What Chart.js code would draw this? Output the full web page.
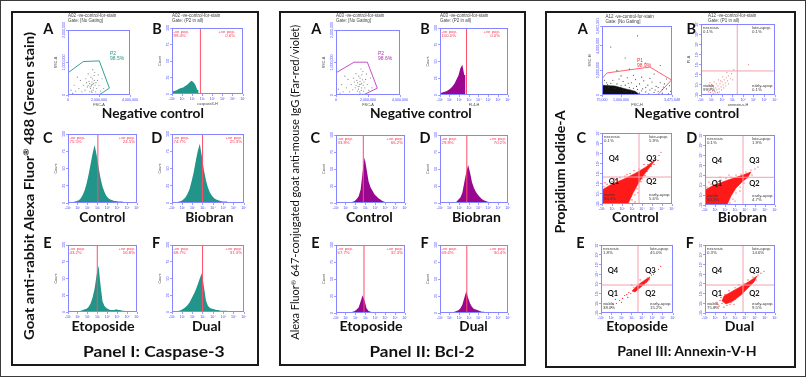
<!DOCTYPE html>
<html><head><meta charset="utf-8">
<script src="https://cdn.jsdelivr.net/npm/chart.js@4.4.1/dist/chart.umd.min.js"></script>
<style>
html,body{margin:0;padding:0;background:#fff;}
#root{position:relative;width:807px;height:378px;overflow:hidden;background:#fff;}
.box{position:absolute;box-sizing:border-box;}
.t{position:absolute;white-space:nowrap;line-height:1;}
.t sup{font-size:60%;line-height:0;vertical-align:0.55em;}
canvas{position:absolute;}
</style></head><body><div id="root"></div>
<script>
// ---------------- DATA ----------------
const HSTEP = 0.2;                       // histogram bin width (log-decade units)
// Panel I: Caspase-3 histograms (B..F), % of y max
const casB_x0 = 0.1, casB = [4,5,6,8,9,10,12,14,17,20,18,14,6];
const casC_x0 = 0.3, casC = [1,1,2,3,4,7,12,19,29,42,57,72,84,70,52,36,24,16,10,7,5,4,3,3,2,2,2,1,1,1];
const casD_x0 = 0.3, casD = [1,1,2,3,5,8,13,20,31,44,60,75,86,68,48,33,22,15,10,7,5,4,3,2,2,2,1,1,1];
const casE_x0 = 0.7, casE = [1,1,1,2,3,4,5,8,13,22,35,55,69,40,16,9,6,4,3,3,3,4,3,3,2,2,1,1];
const casF_x0 = 0.5, casF = [1,2,3,5,7,10,14,20,26,33,41,50,58,38,17,9,6,5,4,3,3,2,2,2,2,1,1,1];
const casGates = [2.8, 3.03, 2.97, 2.97, 2.97];
const casNeg = ["99.4%","75.5%","74.7%","43.2%","68.7%"];
const casPos = ["0.6%","24.5%","25.3%","56.8%","31.3%"];
// Panel II: Bcl-2 histograms
const bclB_x0 = 0.1, bclB = [3,4,5,6,8,10,13,17,23,29,40,45,30];
const bclC_x0 = 1.5, bclC = [1,2,3,6,10,20,45,67,50,32,23,18,13,10,7,5,3,2,1];
const bclD_x0 = 1.5, bclD = [1,2,5,8,15,30,45,56,44,30,22,16,12,9,6,4,3,2,1];
const bclE_x0 = 1.5, bclE = [1,2,3,5,8,17,26,18,7,3,2,1];
const bclF_x0 = 1.3, bclF = [1,2,3,4,7,12,22,32,22,14,9,6,5,4,3,2,2,1];
const bclGates = [2.73, 2.77, 2.76, 2.84, 2.76];
const bclNeg = ["100.0%","33.8%","29.8%","67.7%","69.6%"];
const bclPos = ["0.0%","66.2%","70.2%","32.3%","30.4%"];
// FSC/SSC plots (millions)
const casA_pts = [[1.3,0.3],[1.4,0.35],[1.5,0.28],[1.55,0.4],[1.6,0.33],[1.65,0.22],[1.7,0.45],[1.45,0.2],[1.35,0.42],[1.75,0.3],[1.8,0.38],[1.58,0.5],[1.48,0.55],[1.62,0.15],[1.52,0.12],[1.4,0.1],[1.68,0.6],[1.85,0.2],[1.9,0.45],[1.25,0.25],[1.2,0.38],[1.1,0.15],[1.0,0.3],[0.9,0.1],[0.7,0.2],[0.5,0.12],[0.3,0.05],[0.2,0.15],[0.4,0.3],[0.8,0.45],[2.0,0.3],[2.1,0.12],[2.2,0.5],[1.95,0.62],[1.72,0.7],[1.3,0.65],[1.55,0.08],[1.78,0.1],[2.3,0.2],[0.6,0.55],[1.15,0.5],[1.6,0.78],[1.42,0.25],[1.66,0.36],[1.52,0.31]];
const casA_gate = [[0.02,0.69],[0.99,1.03],[2.02,1.05],[2.67,0.21],[2.06,0.02],[0.02,0.0],[0.02,0.69]];
const bclA_pts = [[1.25,0.3],[1.35,0.38],[1.45,0.27],[1.5,0.42],[1.55,0.33],[1.6,0.22],[1.65,0.47],[1.4,0.18],[1.3,0.45],[1.7,0.3],[1.75,0.4],[1.5,0.52],[1.42,0.58],[1.58,0.14],[1.48,0.1],[1.33,0.12],[1.62,0.62],[1.8,0.22],[1.85,0.48],[1.2,0.22],[1.15,0.4],[1.05,0.16],[0.95,0.32],[0.85,0.1],[0.65,0.22],[0.45,0.1],[0.25,0.06],[0.15,0.18],[0.35,0.32],[0.75,0.48],[1.95,0.32],[2.05,0.14],[2.15,0.52],[1.9,0.65],[1.68,0.72],[1.25,0.66],[1.5,0.06],[1.72,0.12],[2.25,0.22],[0.55,0.58],[1.1,0.52],[1.56,0.8],[1.38,0.26],[1.6,0.36],[1.46,0.33]];
const bclA_gate = [[0.02,0.69],[1.13,1.01],[1.96,1.01],[2.58,0.21],[1.79,0.02],[0.02,0.0],[0.02,0.69]];
const annA_pts = [[0.3,1.0],[0.5,0.95],[0.8,0.9],[1.0,0.75],[1.2,0.8],[1.4,0.6],[1.6,0.55],[1.8,0.45],[2.0,0.35],[2.2,0.25],[2.4,0.4],[2.6,0.2],[2.8,0.3],[3.0,0.15],[3.2,0.5],[3.3,0.1],[1.1,1.1],[1.5,1.0],[1.9,0.9],[2.3,0.8],[2.7,0.7],[3.1,0.9],[0.6,1.2],[0.9,1.3],[1.3,1.4],[1.7,1.25],[2.1,1.15],[2.5,1.05],[2.9,1.0],[3.35,0.75],[0.4,0.6],[0.7,0.55],[1.5,0.2],[1.9,0.15],[2.2,0.6],[2.5,0.55],[2.8,0.6],[3.0,0.45],[1.0,1.55],[1.6,1.6],[2.0,1.45],[2.4,1.35],[0.8,2.0],[1.4,2.1],[2.6,1.7],[3.2,1.3],[1.2,3.0],[2.9,2.4],[0.5,3.9],[1.8,4.8],[2.2,2.6],[3.4,0.3],[1.75,0.7],[2.05,0.5],[1.35,0.95],[0.95,0.6],[2.65,0.4],[3.05,0.65],[1.25,0.3],[1.45,0.4],[1.65,0.15],[1.1,0.35],[2.35,0.1],[2.75,0.05],[0.35,0.85],[0.2,1.2]];
const annA_band = [[0.09,0.02],[0.09,0.79],[0.7,0.73],[1.19,0.51],[1.68,0.3],[1.84,0.11],[1.84,0.02],[0.09,0.02]];
const annA_gate = [[0.1,1.38],[0.32,1.79],[2.4,2.27],[3.45,1.22],[2.79,0.04],[0.1,0.04],[0.1,1.38]];
// Panel III: Annexin-V / PI quadrant plots (log-decade units)
const annB_pts = [[0.7,0.3],[0.8,0.5],[0.9,0.25],[1.0,0.6],[1.1,0.4],[1.2,0.8],[1.3,0.35],[1.4,0.7],[1.5,0.5],[1.6,0.9],[1.7,0.6],[1.8,1.1],[1.9,0.8],[2.0,1.3],[2.1,1.0],[2.2,1.5],[2.3,1.2],[2.4,1.7],[2.5,1.4],[2.6,1.9],[2.8,1.6],[2.9,2.1],[0.75,0.9],[0.85,1.2],[1.05,1.0],[1.25,1.3],[1.45,1.1],[1.65,1.5],[1.35,0.2],[1.55,0.25],[1.75,0.3],[1.95,0.5],[2.15,0.7],[2.35,0.9],[1.15,0.15],[0.95,0.8],[1.85,1.4],[2.05,1.8],[2.45,2.2],[0.7,0.6],[1.6,0.2],[2.6,1.1],[3.0,1.5],[3.1,2.5],[4.5,3.0],[5.2,1.0]];
const annC_poly = [[0,0],[0,1.38],[1.0,1.97],[2.2,2.47],[3.4,3.06],[4.4,3.65],[5.4,4.44],[4.8,3.65],[4.1,2.76],[3.6,1.97],[3.1,1.08],[2.6,0],[0,0]];
const annC_pts = [[0.2,1.7],[0.5,1.95],[1.0,2.2],[1.4,2.35],[1.8,2.6],[2.3,2.75],[2.8,3.0],[3.2,3.3],[3.7,3.45],[4.2,3.9],[4.8,4.2],[5.3,4.6],[5.7,4.8],[5.9,5.1],[5.2,3.9],[4.5,3.2],[4.3,2.8],[3.9,2.2],[3.5,1.5],[3.3,0.9],[3.0,0.4],[3.3,0.2],[2.5,2.9],[1.2,2.5],[0.3,2.1],[3.9,3.1],[4.9,3.7],[3.6,1.1],[4.0,2.5],[5.6,4.3],[2.9,0.8],[4.6,3.9]];
const annD_poly = [[0,0],[0,1.5],[0.9,2.0],[2.3,2.5],[3.5,2.9],[4.6,3.3],[4.3,2.8],[3.7,2.3],[3.1,1.7],[2.6,0.9],[2.2,0],[0,0]];
const annD_pts = [[0.2,1.8],[0.6,2.1],[1.1,2.3],[1.6,2.5],[2.1,2.7],[2.6,2.8],[3.1,3.0],[3.6,3.1],[4.1,3.3],[4.6,3.5],[5.0,3.6],[5.3,3.8],[4.7,3.0],[4.2,2.7],[3.9,2.2],[3.5,1.8],[3.1,1.2],[2.8,0.6],[2.5,0.2],[3.0,0.4],[1.5,2.8],[2.4,3.0],[0.4,2.3],[4.3,3.0],[3.5,1.4]];
const annE_poly = [[3.01,2.27],[3.59,2.89],[4.27,3.4],[4.76,3.71],[4.56,3.3],[3.88,2.68],[3.3,2.16],[3.01,2.27]];
const annE_pts = [[1.2,0.9],[1.5,1.0],[1.8,1.3],[2.1,1.5],[2.3,1.8],[2.5,1.9],[2.7,2.1],[2.9,2.0],[3.2,2.6],[3.4,2.4],[3.7,2.7],[4.0,3.1],[4.4,3.2],[4.5,3.6],[4.9,3.9],[5.1,4.0],[5.3,4.3],[5.6,4.5],[2.0,1.1],[2.6,1.6],[3.0,2.9],[4.2,2.9],[3.8,3.4],[1.0,0.6],[5.8,4.8],[1.4,1.4],[4.7,3.5]];
const annF_poly = [[1.7,1.24],[1.9,1.75],[2.6,2.16],[3.5,2.68],[4.5,3.3],[5.2,3.81],[4.9,3.2],[4.3,2.58],[3.6,1.86],[2.8,1.24],[2.1,0.93],[1.7,1.24]];
const annF_pts = [[1.0,0.6],[1.3,0.9],[1.5,1.3],[1.4,0.7],[1.7,1.0],[1.9,0.6],[2.2,0.8],[2.5,0.9],[1.6,1.6],[2.0,1.9],[2.4,2.3],[3.0,2.6],[3.4,2.9],[3.9,3.0],[4.3,3.4],[4.8,3.7],[5.3,3.9],[5.6,4.1],[5.9,4.3],[4.6,3.0],[4.0,2.4],[3.4,1.9],[3.0,1.4],[2.6,1.1],[2.9,0.9],[1.2,1.1],[5.1,3.4],[3.7,2.2],[2.2,1.4],[3.2,2.2]];
const annQuad = [[3.43,2.37],[3.7,2.66],[3.8,2.77],[3.6,2.88],[3.8,2.88]];   // B..F
// [necrosis, late-apop., viable, early-apop.]
const annStats = [["0.1%","0.1%","99.7%","0.1%"],["0.1%","5.9%","88.4%","5.6%"],["0.1%","1.9%","93.3%","4.7%"],["1.8%","45.0%","38.0%","15.2%"],["0.3%","14.6%","75.6%","9.5%"]];
// tick labels
const HX_TICKS = [0,1,2,3,4,5,6,7], HX_LABELS = ["-10¹","10¹","10²","10³","10⁴","10⁵","10⁶","10⁷"];
const HY_TICKS = [0,25,50,75,100], HY_LABELS = ["0","25","50","75","100"];
const FX_TICKS = [0,2,4], FX_LABELS = ["0","2,000,000","4,000,000"];
const FY_TICKS = [0,1,2], FY_LABELS = ["0","1,000,000","2,000,000"];
const HX3_TICKS = [0.075,1,3.471648], HX3_LABELS = ["75,000","1,000,000","3,471,648"];
const HY3_TICKS = [0,2,4,5.601391], HY3_LABELS = ["0","2,000,000","4,000,000","5,601,391"];
const AX_TICKS = [0,1,2,3,4,5,6,7], AX_LABELS = ["-10¹","10¹","10²","10³","10⁴","10⁵","10⁶","10⁷"];

// ---------------- DRAWING ----------------
const root = document.getElementById('root');
const PADL=14, PADT=10, PADR=9, PADB=12;
const AXC='#8585ff', TKC='#4747ff', GATE='#ff4d6a', QUAD='#f3a0ae';
const TEAL='#21958a', PURP='#99068f', RED='#ff1a1a';
const SMALL='"Liberation Sans", Arial, sans-serif', BIG='Lato, "Open Sans", sans-serif';

const frame = {id:'frame', afterDraw(chart){
  const a=chart.chartArea, ctx=chart.ctx; ctx.save(); ctx.strokeStyle=AXC; ctx.lineWidth=1;
  ctx.strokeRect(Math.round(a.left)+0.5, Math.round(a.top)+0.5, Math.round(a.right-a.left)-1, Math.round(a.bottom-a.top)-1);
  ctx.restore(); }};
const rotY = {id:'rotY', afterDraw(chart, args, o){
  if(!o || !o.labels) return; const ctx=chart.ctx, s=chart.scales.y;
  ctx.save(); ctx.fillStyle=TKC; ctx.font='3.6px "Liberation Sans"'; ctx.textAlign='center'; ctx.textBaseline='middle';
  o.values.forEach((v,i)=>{ const y=s.getPixelForValue(v); ctx.save(); ctx.translate(chart.chartArea.left-4.5, y); ctx.rotate(-Math.PI/2); ctx.fillText(o.labels[i],0,0); ctx.restore(); });
  ctx.restore(); }};
// fills closed polygons using the point positions Chart.js computed for the dataset
const polyFill = {id:'polyFill', beforeDatasetsDraw(chart){
  const ctx=chart.ctx, a=chart.chartArea;
  chart.data.datasets.forEach((ds,i)=>{
    if(!ds.polyColor) return; const els=chart.getDatasetMeta(i).data; if(!els.length) return;
    ctx.save(); ctx.beginPath(); ctx.rect(a.left,a.top,a.right-a.left,a.bottom-a.top); ctx.clip();
    ctx.beginPath();
    if(ds.polyHist){ // histogram silhouette through bin centres, closed to the baseline
      const base=chart.scales.y.getPixelForValue(0), hw=ds.polyHist/2, n=els.length;
      ctx.moveTo(els[0].x-hw, base); ctx.lineTo(els[0].x-hw, els[0].y);
      els.forEach(p=>ctx.lineTo(p.x, p.y));
      ctx.lineTo(els[n-1].x+hw, els[n-1].y); ctx.lineTo(els[n-1].x+hw, base);
    } else els.forEach((p,j)=> j ? ctx.lineTo(p.x,p.y) : ctx.moveTo(p.x,p.y));
    ctx.closePath(); ctx.fillStyle=ds.polyColor; ctx.fill(); ctx.restore();
  }); }};

function axisCfg(kind, a){
  return { type:'linear', min:a.min, max:a.max, offset:false,
    afterFit(s){ if(kind==='x') s.height=PADB; else s.width=PADL; },
    afterBuildTicks(s){ s.ticks=a.ticks.map(v=>({value:v})); },
    grid:{drawOnChartArea:false, drawTicks:true, tickLength:2, color:AXC, lineWidth:0.8},
    border:{display:false},
    ticks:{display:kind==='x', autoSkip:false, maxRotation:0, minRotation:0, padding:0.5, color:TKC,
      font:{size:3.6, family:'Liberation Sans'}, callback:(v,i)=>a.labels[i]},
    title:{display:!!a.title, text:a.title||'', color:'#444', font:{size:3.8, family:'Liberation Sans'}, padding:{top:0,bottom:0}} };
}
function mkChart(rect, type, datasets, xa, ya){
  const [L,T,R,B]=rect; const c=document.createElement('canvas');
  c.width=(R-L)+PADL+PADR; c.height=(B-T)+PADT+PADB;
  c.style.left=(L-PADL)+'px'; c.style.top=(T-PADT)+'px'; c.style.width=c.width+'px'; c.style.height=c.height+'px';
  root.appendChild(c);
  return new Chart(c, {type, data:{datasets}, options:{
    responsive:false, maintainAspectRatio:false, animation:false, events:[], devicePixelRatio:1,
    layout:{padding:{left:0, top:PADT, right:PADR, bottom:0}},
    plugins:{legend:{display:false}, tooltip:{enabled:false}, rotY:{values:ya.ticks, labels:ya.labels}},
    scales:{x:axisCfg('x',xa), y:axisCfg('y',ya)} }, plugins:[polyFill, frame, rotY]});
}
const XY = a => a.map(([x,y])=>({x,y}));
// histogram: one point per bin (bin centre, count)
function histSets(chartRect, x0, vals, gate, color){
  const pxPerUnit = (chartRect[2]-chartRect[0])/7;
  return [
    {type:'line', data:vals.map((v,i)=>({x:Math.round((x0+i*HSTEP)*100)/100, y:v})), showLine:false, pointRadius:0,
     polyColor:color, polyHist:HSTEP*pxPerUnit, order:2},
    {type:'line', data:[{x:gate,y:0},{x:gate,y:100}], borderColor:GATE, borderWidth:1, pointRadius:0, order:1} ];
}
const pts = (a, col, r) => ({type:'scatter', data:XY(a), backgroundColor:col, borderWidth:0, pointRadius:r});
const poly = (a, col, fillCol, w) => ({type:'line', data:XY(a), borderColor:col, borderWidth:w, pointRadius:0, tension:0, fill:false, polyColor:fillCol||null});
function quadSets(q){ return [
  {type:'line', data:[{x:q[0],y:0},{x:q[0],y:7}], borderColor:QUAD, borderWidth:1, pointRadius:0, fill:false},
  {type:'line', data:[{x:0,y:q[1]},{x:7,y:q[1]}], borderColor:QUAD, borderWidth:1, pointRadius:0, fill:false} ]; }

const hx = t => ({min:0, max:7, ticks:HX_TICKS, labels:HX_LABELS, title:t});
const hy = {min:0, max:100, ticks:HY_TICKS, labels:HY_LABELS, title:'Count'};
const ax = t => ({min:0, max:7, ticks:AX_TICKS, labels:AX_LABELS, title:t});

// rectangles [L,T,R,B]
const R1 = {A:[68,30,130,95], B:[172,28,243,94], C:[68,134,137,203], D:[172,134,244,203], E:[68,245,137,312], F:[172,245,244,312]};
const R2 = {A:[336,30,400,95], B:[440,28,508,95], C:[336,135,405,203], D:[440,135,508,203], E:[336,245,405,313], F:[440,245,508,313]};
const R3 = {A:[602,26,672,95], B:[701,24,775,95], C:[602,133,672,204], D:[705,135,775,205], E:[601,245,673,313], F:[705,245,775,313]};

// Panel I
mkChart(R1.A,'scatter',[pts(casA_pts,'#8a8a8a',0.6), poly(casA_gate,TEAL,null,0.9)], {min:0,max:4,ticks:FX_TICKS,labels:FX_LABELS,title:'FSC-A'}, {min:0,max:2,ticks:FY_TICKS,labels:FY_LABELS,title:'SSC-A'});
mkChart(R1.B,'scatter',histSets(R1.B,casB_x0,casB,casGates[0],TEAL), hx('caspase3-H'), hy);
mkChart(R1.C,'scatter',histSets(R1.C,casC_x0,casC,casGates[1],TEAL), hx(''), hy);
mkChart(R1.D,'scatter',histSets(R1.D,casD_x0,casD,casGates[2],TEAL), hx(''), hy);
mkChart(R1.E,'scatter',histSets(R1.E,casE_x0,casE,casGates[3],TEAL), hx(''), hy);
mkChart(R1.F,'scatter',histSets(R1.F,casF_x0,casF,casGates[4],TEAL), hx(''), hy);
// Panel II
mkChart(R2.A,'scatter',[pts(bclA_pts,'#8a8a8a',0.6), poly(bclA_gate,'#c03cc0',null,0.9)], {min:0,max:4,ticks:FX_TICKS,labels:FX_LABELS,title:'FSC-A'}, {min:0,max:2,ticks:FY_TICKS,labels:FY_LABELS,title:'SSC-A'});
mkChart(R2.B,'scatter',histSets(R2.B,bclB_x0,bclB,bclGates[0],PURP), hx('FL4-H'), hy);
mkChart(R2.C,'scatter',histSets(R2.C,bclC_x0,bclC,bclGates[1],PURP), hx(''), hy);
mkChart(R2.D,'scatter',histSets(R2.D,bclD_x0,bclD,bclGates[2],PURP), hx(''), hy);
mkChart(R2.E,'scatter',histSets(R2.E,bclE_x0,bclE,bclGates[3],PURP), hx(''), hy);
mkChart(R2.F,'scatter',histSets(R2.F,bclF_x0,bclF,bclGates[4],PURP), hx(''), hy);
// Panel III
mkChart(R3.A,'scatter',[poly(annA_band,'#111','#111',0.5), pts(annA_pts,'#333',0.55), poly(annA_gate,'#ff5060',null,0.9)], {min:0.075,max:3.471648,ticks:HX3_TICKS,labels:HX3_LABELS,title:'FSC-H'}, {min:0,max:5.601391,ticks:HY3_TICKS,labels:HY3_LABELS,title:'SSC-H'});
mkChart(R3.B,'scatter',[...quadSets(annQuad[0]), pts(annB_pts,'#f08080',0.6)], ax('annexin-v-H'), ax('PI-A'));
mkChart(R3.C,'scatter',[...quadSets(annQuad[1]), poly(annC_poly,RED,RED,0.6), pts(annC_pts,RED,0.6)], ax(''), ax(''));
mkChart(R3.D,'scatter',[...quadSets(annQuad[2]), poly(annD_poly,RED,RED,0.6), pts(annD_pts,RED,0.6)], ax(''), ax(''));
mkChart(R3.E,'scatter',[...quadSets(annQuad[3]), poly(annE_poly,RED,RED,0.6), pts(annE_pts,RED,0.6)], ax(''), ax(''));
mkChart(R3.F,'scatter',[...quadSets(annQuad[4]), poly(annF_poly,RED,RED,0.6), pts(annF_pts,RED,0.6)], ax(''), ax(''));

// ---------------- BOXES & TEXT ----------------
function box(l,t,w,h,bw,col){ const d=document.createElement('div'); d.className='box';
  Object.assign(d.style,{left:l+'px',top:t+'px',width:w+'px',height:h+'px',border:bw+'px solid '+col}); root.appendChild(d); }
box(0,0,806,377,1.5,'#3a3a3a');
box(11,11,248,355,2,'#1a1a1a');
box(279,11,247,355,2,'#1a1a1a');
box(544.5,11,251,356.5,2,'#1a1a1a');

function txt(s,x,y,o={}){
  const d=document.createElement('div'); d.className='t';
  if(o.html) d.innerHTML=s; else d.textContent=s;
  const fs=o.fs||4.3;
  d.style.fontSize=fs+'px'; d.style.fontFamily=o.ff||SMALL; d.style.fontWeight=o.fw||'400'; d.style.color=o.c||'#3a3a3a';
  root.appendChild(d);
  const r=d.getBoundingClientRect(), w=r.width, h=fs;
  let left=x; if(o.al==='c') left=x-w/2; else if(o.al==='r') left=x-w;
  d.style.left=left+'px'; d.style.top=(y-h/2)+'px';
  let tf=''; if(o.rot) tf+='rotate(-90deg) '; if(o.w) tf+='scaleX('+(o.w/w)+')';
  if(tf){ d.style.transform=tf; d.style.transformOrigin=(w/2)+'px '+(h/2)+'px'; }
  return d;
}
const big = (s,x,y,fs,w,extra={}) => txt(s,x,y,Object.assign({fs,fw:700,ff:BIG,al:'c',w,c:'#111'},extra));

// panel letters
[[48.3,29.3,'A'],[157,29.3,'B'],[47.8,138.3,'C'],[156.7,138.3,'D'],[47.5,243.5,'E'],[156.2,243.5,'F'],
 [316.3,29.3,'A'],[425,29.3,'B'],[315.2,138.3,'C'],[425,138.3,'D'],[315.3,243.5,'E'],[424.5,243.5,'F'],
 [582.7,29.2,'A'],[691.3,29.2,'B'],[581.3,138.3,'C'],[691.8,138.3,'D'],[580.5,243.3,'E'],[689.8,243.3,'F']
].forEach(([x,y,s])=>big(s,x,y,14.5,null));
// sub titles
[[152.5,'Negative control',102],[420.5,'Negative control',101.7],[687.2,'Negative control',105]].forEach(([x,s,w])=>big(s,x,113.3,14,w));
[[102,'Control',46],[209.2,'Biobran',48.3],[369.7,'Control',46.7],[476.8,'Biobran',49],[635.3,'Control',46.7],[742.7,'Biobran',49.3]].forEach(([x,s,w])=>big(s,x,216.7,14,w));
[[103.3,'Etoposide',63.3],[206.2,'Dual',29],[371.3,'Etoposide',63.3],[473.8,'Dual',28.3],[637.2,'Etoposide',61.7],[740,'Dual',29.3]].forEach(([x,s,w])=>big(s,x,325.5,14,w));
big('Panel I: Caspase-3',154.2,350.8,16,141.7);
big('Panel II: Bcl-2',422.2,351.2,15,105);
big('Panel III: Annexin-V-H',686.7,352.5,12.5,139.3);
// y labels
big('Goat anti-rabbit Alexa Fluor<sup>®</sup> 488 (Green stain)',28.5,186,14,308,{html:true,rot:true});
big('Alexa Fluor<sup>®</sup> 647-conjugated goat anti-mouse IgG (Far-red/violet)',295,182.5,10.5,315,{html:true,rot:true,fw:400});
big('Propidium Iodide-A',559.7,171.5,14,123,{rot:true});

// plot headers
function header(x,l1,l2){ txt(l1,x,15.8,{fs:4.5,c:'#444'}); txt(l2,x,21.3,{fs:4.5,c:'#444'}); }
header(68,'A02 -ve-control-for-stain','Gate: [No Gating]');
header(172,'A02 -ve-control-for-stain','Gate: (P2 in all)');
header(336,'A03 -ve-control-for-stain','Gate: [No Gating]');
header(440,'A03 -ve-control-for-stain','Gate: (P2 in all)');
txt('A12 -ve-control-for-stain',605.5,16.8,{fs:4.5,c:'#444'}); txt('Gate: [No Gating]',605.5,22,{fs:4.5,c:'#444'});
header(708,'A12 -ve-control-for-stain','Gate: (P1 in all)');
// gate labels
txt('P2',110,53.3,{fs:5,c:TEAL}); txt('98.5%',110,58.8,{fs:5,c:TEAL});
txt('P2',378,53.3,{fs:5,c:'#b030b0'}); txt('98.6%',378,58.8,{fs:5,c:'#b030b0'});
txt('P1',637,60.3,{fs:5,c:'#ff3040'}); txt('98.9%',637,65,{fs:5,c:'#ff3040'});
// histogram stats
const HR = (r,i,neg,pos)=>{ const [L,T,R]=r; const rr = i===0 ? R-8 : R-2;
  txt('-ve pop.',L+1.5,T+4,{c:'#ff3355'}); txt(neg,L+1.5,T+8,{c:'#ff3355'});
  txt('+ve pop.',rr,T+4,{c:'#ff3355',al:'r'}); txt(pos,rr,T+8,{c:'#ff3355',al:'r'}); };
['B','C','D','E','F'].forEach((k,i)=>{ HR(R1[k],i,casNeg[i],casPos[i]); HR(R2[k],i,bclNeg[i],bclPos[i]); });
// quadrant stats
['B','C','D','E','F'].forEach((k,i)=>{ const [L,T,R,B]=R3[k], st=annStats[i];
  txt('necrosis',L+2,T+3.8); txt(st[0],L+2,T+7.8);
  txt('late-apop.',R-23,T+3.8); txt(st[1],R-23,T+7.8);
  txt('viable',L+2,B-8.5); txt(st[2],L+2,B-4.5);
  txt('early-apop.',R-23,B-8.5); txt(st[3],R-23,B-4.5);
  if(i>0){ const o={fs:7.5,fw:700,ff:BIG,al:'c',c:'#111'};
    txt('Q4',L+12,T+26,o); txt('Q3',L+49.5,T+26,o); txt('Q1',L+12,T+48.5,o); txt('Q2',L+49.5,T+48.5,o); }
});
</script></body></html>
